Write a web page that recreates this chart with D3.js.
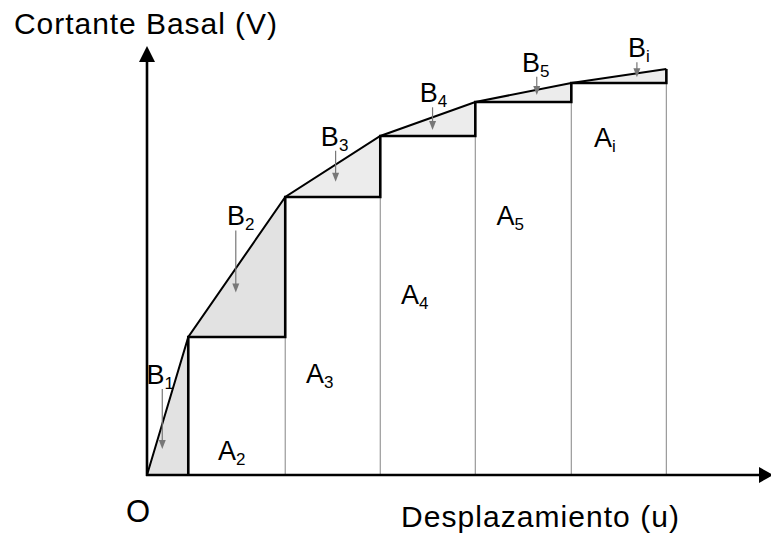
<!DOCTYPE html>
<html>
<head>
<meta charset="utf-8">
<script src="https://cdn.jsdelivr.net/npm/d3@7"></script>
<style>
  body { margin: 0; background: #fff; }
  text { font-family: 'Liberation Sans', Arial, sans-serif; fill: #000; }
</style>
</head>
<body>
<svg id="chart" width="771" height="533"></svg>
<script>
// pushover curve points (displacement u, base shear V)
const dispU = [0, 0.43, 1.44, 2.43, 3.42, 4.42, 5.41]
const shearV = [0, 1.38, 2.78, 3.39, 3.73, 3.92, 4.06]
const bNames = ['1', '2', '3', '4', '5', 'i']
const aNames = ['2', '3', '4', '5', 'i']

// annotation layout (fraction along segment, px above curve, tip fraction, text dx)
const bLayout = [
  { f: 0.37, up: 35, tip: 0.49, dx: -2 },
  { f: 0.49, up: 38, tip: 0.35, dx: 5 },
  { f: 0.53, up: 14, tip: 0.53, dx: -1 },
  { f: 0.55, up: 10, tip: 0.68, dx: 1 },
  { f: 0.64, up: 13, tip: 0.42, dx: -1 },
  { f: 0.69, up: 11, tip: 0.40, dx: 2 }
]
// A labels: dx from strip centre, baseline height in V units
const aLayout = [
  { dx: -5, v: 0.15 },
  { dx: -13, v: 0.92 },
  { dx: -13, v: 1.71 },
  { dx: -13, v: 2.50 },
  { dx: -14, v: 3.28 }
]

const svg = d3.select('#chart')
const x = d3.scaleLinear().domain([0, 6.4]).range([147, 761.4])
const y = d3.scaleLinear().domain([0, 4.27]).range([475, 48])

const pts = dispU.map((u, i) => ({ px: x(u), py: y(shearV[i]) }))
const base = y(0)

// shaded triangles between curve and steps
const shade = svg.append('g')
for (let i = 0; i < pts.length - 1; i++) {
  const a = pts[i]
  const b = pts[i + 1]
  shade.append('path')
    .attr('d', `M${a.px},${a.py}L${b.px},${b.py}L${b.px},${a.py}Z`)
    .attr('fill', i < 2 ? '#e2e2e2' : '#ececec')
}

// thin verticals
for (let i = 2; i < pts.length; i++) {
  svg.append('line')
    .attr('x1', pts[i].px).attr('x2', pts[i].px)
    .attr('y1', base).attr('y2', pts[i - 1].py)
    .attr('stroke', '#999').attr('stroke-width', 1.2)
}

// bold step line
let d = `M${pts[1].px},${base}V${pts[1].py}`
for (let i = 2; i < pts.length; i++) {
  d += `H${pts[i].px}V${pts[i].py}`
}
svg.append('path').attr('d', d)
  .attr('fill', 'none').attr('stroke', '#000').attr('stroke-width', 2.6)
  .attr('stroke-linejoin', 'miter')

// curve
svg.append('path')
  .datum(pts)
  .attr('d', d3.line().x(p => p.px).y(p => p.py))
  .attr('fill', 'none').attr('stroke', '#000').attr('stroke-width', 2)

// axes
const x0 = x(0)
svg.append('line').attr('x1', x0).attr('x2', x0).attr('y1', base + 1).attr('y2', 58)
  .attr('stroke', '#000').attr('stroke-width', 2.6)
svg.append('path').attr('d', `M${x0},46L${x0 + 8},62L${x0 - 8},62Z`).attr('fill', '#000')
svg.append('line').attr('x1', x0 - 1).attr('x2', 764).attr('y1', base).attr('y2', base)
  .attr('stroke', '#000').attr('stroke-width', 2.6)
svg.append('path').attr('d', `M773,${base}L759,${base - 8}L759,${base + 8}Z`).attr('fill', '#000')

// axis titles
svg.append('text').attr('x', 14).attr('y', 34).attr('font-size', 30)
  .attr('textLength', 263).text('Cortante Basal (V)')
svg.append('text').attr('x', 401).attr('y', 527).attr('font-size', 30)
  .attr('textLength', 278).text('Desplazamiento (u)')
svg.append('text').attr('x', 126).attr('y', 522).attr('font-size', 31).text('O')

// B labels with arrows
bLayout.forEach((L, i) => {
  const a = pts[i]
  const b = pts[i + 1]
  const ax = a.px + (b.px - a.px) * L.f
  const cy = a.py + (b.py - a.py) * L.f
  const top = cy - L.up
  const tipY = cy + (a.py - cy) * L.tip
  svg.append('line').attr('x1', ax).attr('x2', ax).attr('y1', top).attr('y2', tipY - 5)
    .attr('stroke', '#777').attr('stroke-width', 1.2)
  svg.append('path').attr('d', `M${ax},${tipY}L${ax - 3.5},${tipY - 9}L${ax + 3.5},${tipY - 9}Z`)
    .attr('fill', '#777')
  const t = svg.append('text').attr('x', ax + L.dx).attr('y', top - 5)
    .attr('text-anchor', 'middle').attr('font-size', 27)
  t.append('tspan').text('B')
  t.append('tspan').attr('font-size', 17).attr('dy', 5).text(bNames[i])
})

// A labels
aLayout.forEach((L, i) => {
  const a = pts[i + 1]
  const b = pts[i + 2]
  const t = svg.append('text').attr('x', (a.px + b.px) / 2 + L.dx).attr('y', y(L.v))
    .attr('text-anchor', 'middle').attr('font-size', 27)
  t.append('tspan').text('A')
  t.append('tspan').attr('font-size', 17).attr('dy', 5).text(aNames[i])
})
</script>
</body>
</html>
